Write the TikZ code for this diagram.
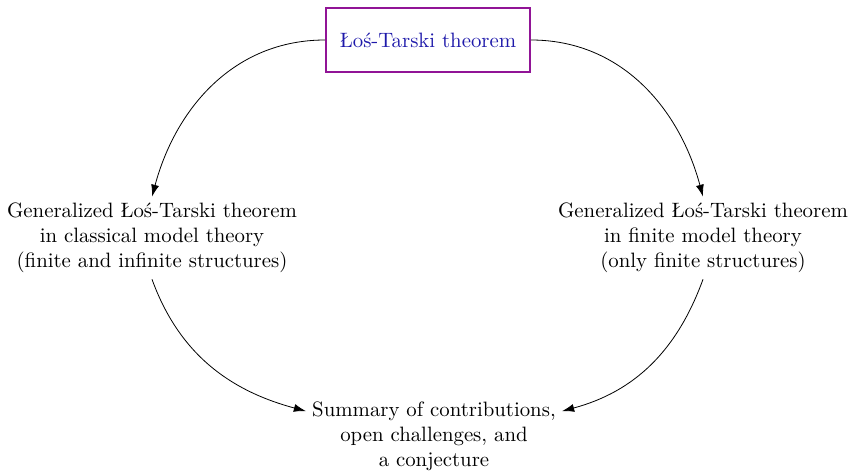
\documentclass[tikz,border=0pt]{standalone}
\usepackage{xcolor}
\usepackage{tikz}
\usetikzlibrary{arrows.meta}
\definecolor{boxline}{RGB}{145,20,150}
\definecolor{boxtext}{RGB}{30,25,170}

\begin{document}
\begin{tikzpicture}[x=1pt,y=1pt,
    every node/.style={font=\fontsize{10.4pt}{12.5pt}\selectfont},
    topic/.style={draw=boxline, thick, text=boxtext, inner xsep=7pt, minimum height=32pt},
    part/.style={align=center, inner sep=3pt},
    flow/.style={-{Latex[length=6pt,width=4pt]}}]
    \useasboundingbox (0,0) rectangle (424.5,235.5);

    \node[topic] (los) at (214,215.5) {Łoś-Tarski theorem};
    \node[part] (classical) at (76,116.5) {Generalized Łoś-Tarski theorem\\in classical model theory\\(finite and infinite structures)};
    \node[part] (finite) at (351.5,116.5) {Generalized Łoś-Tarski theorem\\in finite model theory\\(only finite structures)};
    \node[part] (summary) at (217,17.5) {Summary of contributions,\\open challenges, and\\a conjecture};

    \draw[flow] (los.west) to[out=180,in=75] (classical.north);
    \draw[flow] (los.east) to[out=0,in=105] (finite.north);
    \draw[flow] (classical.south) to[out=-70,in=165] (summary.169);
    \draw[flow] (finite.south) to[out=-110,in=15] (summary.11);
\end{tikzpicture}
\end{document}
